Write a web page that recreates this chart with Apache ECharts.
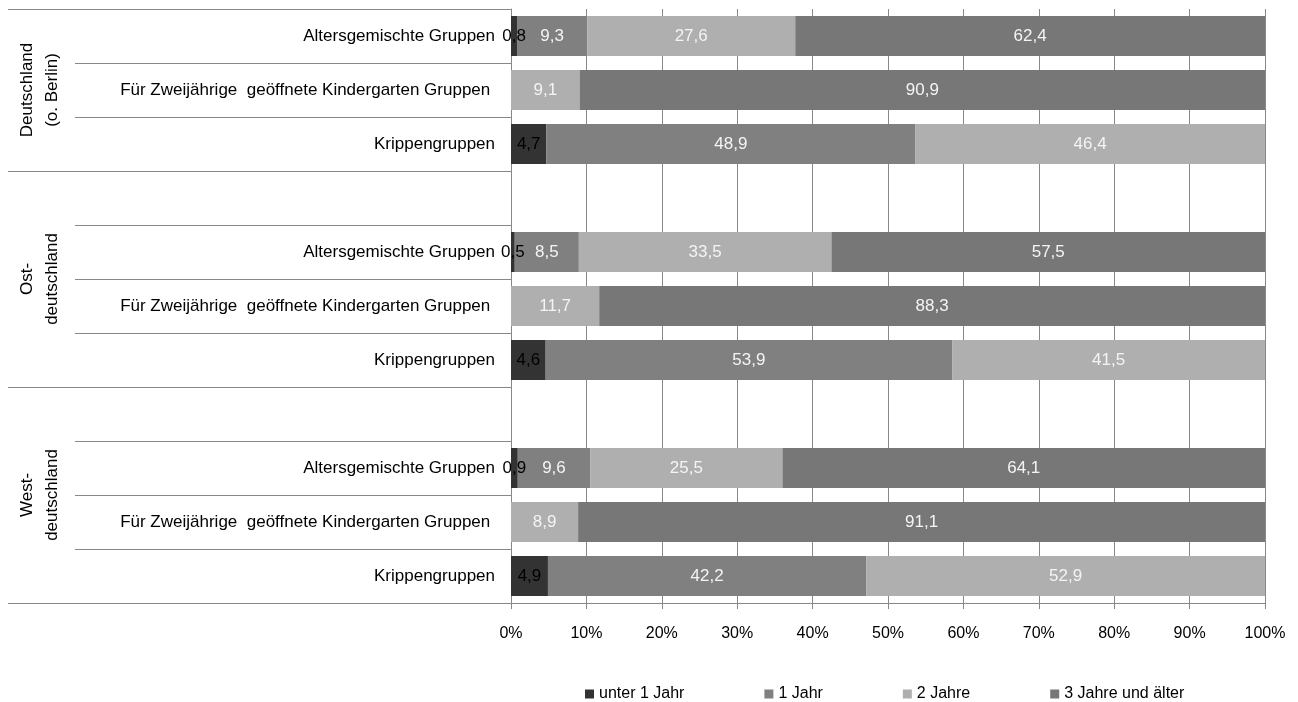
<!DOCTYPE html>
<html>
<head>
<meta charset="utf-8">
<script src="https://cdn.jsdelivr.net/npm/echarts@6/dist/echarts.min.js"></script>
<style>
  html, body { margin: 0; padding: 0; background: #fff; }
  #chart { width: 1298px; height: 702px; }
</style>
</head>
<body>
<div id="chart"></div>
<script>
// Row labels (top to bottom); empty strings are spacer rows between regions
const rowLabels = [
  'Altersgemischte Gruppen', 'Für Zweijährige  geöffnete Kindergarten Gruppen ', 'Krippengruppen',
  '', 'Altersgemischte Gruppen', 'Für Zweijährige  geöffnete Kindergarten Gruppen ', 'Krippengruppen',
  '', 'Altersgemischte Gruppen', 'Für Zweijährige  geöffnete Kindergarten Gruppen ', 'Krippengruppen'
];

// Region labels and the row ranges they cover [firstRow, endRow)
const regionLabels = ['Deutschland\n(o. Berlin)', 'Ost-\ndeutschland', 'West-\ndeutschland'];
const regionSpans = [[0, 3], [3, 7], [7, 11]];

// Share of children by age, in percent
const seriesNames = ['unter 1 Jahr', '1 Jahr', '2 Jahre', '3 Jahre und älter'];
const unter1Jahr = [0.8, null, 4.7, null, 0.5, null, 4.6, null, 0.9, null, 4.9];
const einJahr    = [9.3, null, 48.9, null, 8.5, null, 53.9, null, 9.6, null, 42.2];
const zweiJahre  = [27.6, 9.1, 46.4, null, 33.5, 11.7, 41.5, null, 25.5, 8.9, 52.9];
const dreiJahre  = [62.4, 90.9, null, null, 57.5, 88.3, null, null, 64.1, 91.1, null];

const seriesColors = ['#333333', '#808080', '#afafaf', '#777777'];
const labelColors  = ['#000000', '#f4f4f4', '#f4f4f4', '#f4f4f4'];

const FONT = '"Liberation Sans", Arial, sans-serif';
const LINE = '#888888';

const chart = echarts.init(document.getElementById('chart'), null, { renderer: 'canvas' });

function fmt(p) {
  return p.value == null ? '' : String(p.value).replace('.', ',');
}

const values = [unter1Jahr, einJahr, zweiJahre, dreiJahre];

chart.setOption({
  animation: false,
  textStyle: { fontFamily: FONT },
  grid: { left: 511, right: 33, top: 9, bottom: 99, containLabel: false },
  legend: {
    left: 580,
    top: 681,
    itemWidth: 9,
    itemHeight: 9,
    itemGap: 80,
    icon: 'rect',
    textStyle: { fontFamily: FONT, fontSize: 16, color: '#000' },
    data: seriesNames
  },
  xAxis: {
    type: 'value',
    min: 0,
    max: 100,
    interval: 10,
    axisLine: { show: true, lineStyle: { color: LINE, width: 1 } },
    axisTick: { show: true, length: 6, lineStyle: { color: LINE } },
    splitLine: { show: true, lineStyle: { color: LINE, width: 1 } },
    axisLabel: { formatter: '{value}%', fontFamily: FONT, fontSize: 16, color: '#000', margin: 23 }
  },
  yAxis: {
    type: 'category',
    inverse: true,
    data: rowLabels,
    axisLine: { show: true, lineStyle: { color: LINE, width: 1 } },
    axisTick: { show: true, interval: 0, length: 436, lineStyle: { color: LINE, width: 1 } },
    axisLabel: { interval: 0, fontFamily: FONT, fontSize: 17, color: '#000', margin: 16 },
    splitLine: { show: false }
  },
  series: seriesNames.map((name, i) => ({
    name,
    type: 'bar',
    stack: 'total',
    barCategoryGap: '26%',
    data: values[i],
    itemStyle: { color: seriesColors[i] },
    label: {
      show: true,
      position: 'inside',
      formatter: fmt,
      fontFamily: FONT,
      fontSize: 17,
      color: labelColors[i],
      textBorderWidth: 0
    },
    emphasis: { disabled: true }
  }))
});

// Region separators and rotated region titles to the left of the row labels
function drawRegions() {
  const c0 = chart.convertToPixel({ yAxisIndex: 0 }, 0);
  const c1 = chart.convertToPixel({ yAxisIndex: 0 }, 1);
  const band = c1 - c0;
  const y0 = c0 - band / 2;
  const xAxisPos = chart.convertToPixel({ xAxisIndex: 0 }, 0);
  const graphics = [];
  const boundaries = new Set();
  regionSpans.forEach(s => { boundaries.add(s[0]); boundaries.add(s[1]); });
  boundaries.forEach(k => {
    const y = Math.round(y0 + k * band) + 0.5;
    graphics.push({
      type: 'line',
      silent: true,
      shape: { x1: 8, y1: y, x2: xAxisPos, y2: y },
      style: { stroke: LINE, lineWidth: 1 }
    });
  });
  regionSpans.forEach((s, i) => {
    const yc = y0 + (s[0] + s[1]) / 2 * band;
    graphics.push({
      type: 'text',
      silent: true,
      x: 40,
      y: yc,
      rotation: Math.PI / 2,
      style: {
        text: regionLabels[i],
        fontFamily: FONT,
        fontSize: 17,
        lineHeight: 25,
        fill: '#000',
        align: 'center',
        verticalAlign: 'middle'
      }
    });
  });
  chart.setOption({ graphic: graphics });
}
drawRegions();
</script>
</body>
</html>
